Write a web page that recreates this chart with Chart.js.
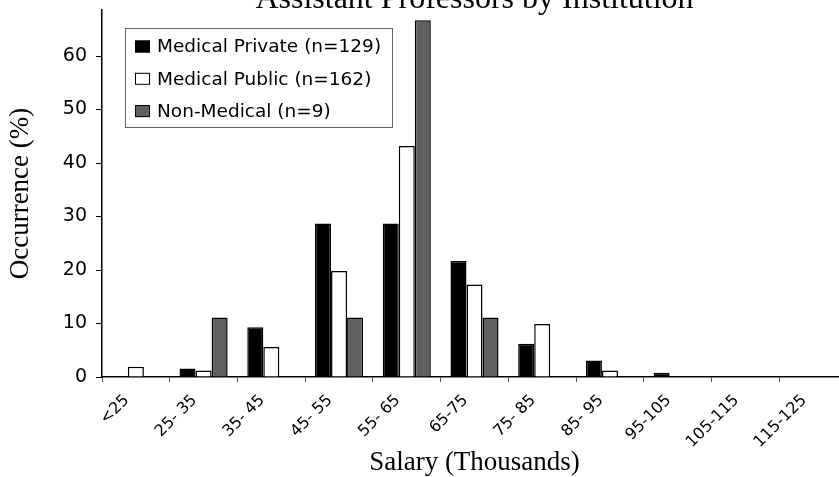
<!DOCTYPE html>
<html>
<head>
<meta charset="utf-8">
<script src="https://cdn.jsdelivr.net/npm/chart.js@4/dist/chart.umd.min.js"></script>
<style>
  html, body { margin: 0; padding: 0; background: #fff; }
  body { width: 839px; height: 477px; overflow: hidden; position: relative; }
  /* canvas sits a bit above and right of the window so the title and the axis end are cut like in the original */
  #chart { position: absolute; left: 0; top: -22px; }
</style>
</head>
<body>
<canvas id="chart" width="860" height="499"></canvas>
<script>
// salary bands (thousands)
const categories = ['<25', '25- 35', '35- 45', '45- 55', '55- 65', '65-75', '75- 85', '85- 95', '95-105', '105-115', '115-125'];
// occurrence in %
const medPrivate = [0, 1.6, 9.3, 28.7, 28.7, 21.7, 6.2, 3.1, 0.8, 0, 0];
const medPublic = [1.9, 1.2, 5.6, 19.8, 43.2, 17.3, 9.9, 1.2, 0, 0, 0];
const nonMedical = [0, 11.1, 0, 11.1, 66.7, 11.1, 0, 0, 0, 0, 0];
const seriesLabels = ['Medical Private (n=129)', 'Medical Public (n=162)', 'Non-Medical (n=9)'];
const yTicks = [0, 10, 20, 30, 40, 50, 60];

const SANS = '"DejaVu Sans", sans-serif';
const SERIF = '"Liberation Serif", "Times New Roman", serif';

// legend in a box inside the plot, top left
const boxLegend = {
  id: 'boxLegend',
  afterDraw(chart) {
    const ctx = chart.ctx;
    const left = chart.chartArea.left + 23, top = chart.chartArea.top + 18;
    ctx.save();
    ctx.fillStyle = '#fff';
    ctx.fillRect(left, top, 267, 99);
    ctx.strokeStyle = '#666';
    ctx.lineWidth = 1;
    ctx.strokeRect(left + 0.5, top + 0.5, 267, 99);
    ctx.font = '18.5px ' + SANS;
    ctx.textBaseline = 'middle';
    chart.data.datasets.forEach((ds, i) => {
      const cy = top + 18.5 + i * 32.3;
      ctx.fillStyle = ds.backgroundColor;
      ctx.fillRect(left + 10, cy - 6, 15, 12);
      ctx.strokeStyle = '#000';
      ctx.strokeRect(left + 10.5, cy - 5.5, 14, 11);
      ctx.fillStyle = '#000';
      ctx.fillText(ds.label, left + 32, cy + 1);
    });
    ctx.restore();
  }
};

new Chart(document.getElementById('chart'), {
  type: 'bar',
  data: {
    labels: categories,
    datasets: [
      { label: seriesLabels[0], data: medPrivate, backgroundColor: '#000000', borderColor: '#000', borderWidth: 1.5 },
      { label: seriesLabels[1], data: medPublic, backgroundColor: '#ffffff', borderColor: '#000', borderWidth: 1.5 },
      { label: seriesLabels[2], data: nonMedical, backgroundColor: '#606060', borderColor: '#000', borderWidth: 1.5 }
    ]
  },
  options: {
    responsive: false,
    animation: false,
    devicePixelRatio: 1,
    layout: { padding: { left: 0, right: 13, top: 0, bottom: 0 } },
    datasets: { bar: { categoryPercentage: 0.71, barPercentage: 1.0 } },
    plugins: {
      legend: { display: false },
      tooltip: { enabled: false },
      title: {
        display: true,
        text: 'Assistant Professors by Institution',
        fullSize: false,
        color: '#000',
        font: { family: SERIF, size: 32, weight: 'normal', lineHeight: 1 },
        // pushed down without moving the plot
        padding: { top: 6, bottom: -6 }
      }
    },
    scales: {
      x: {
        grid: { offset: true, drawOnChartArea: false, tickLength: 5, color: '#555' },
        border: { color: '#000', width: 1.5 },
        ticks: {
          color: '#000', font: { family: SANS, size: 16 },
          autoSkip: false, minRotation: 45, maxRotation: 45,
          padding: 9, labelOffset: -9
        },
        title: {
          display: true, text: 'Salary (Thousands)', color: '#000',
          font: { family: SERIF, size: 27, lineHeight: 1 },
          padding: { top: 0, bottom: 1 }
        },
        afterFit: s => { s.height = 100; }
      },
      y: {
        min: 0,
        max: 68.6,
        grid: { drawOnChartArea: false, tickLength: 6, color: '#000' },
        border: { color: '#000', width: 1.5 },
        ticks: { color: '#000', font: { family: SANS, size: 19 }, padding: 9, stepSize: 10 },
        afterBuildTicks: s => { s.ticks = yTicks.map(v => ({ value: v })); },
        title: {
          display: true, text: 'Occurrence (%)', color: '#000',
          font: { family: SERIF, size: 27, lineHeight: 1 },
          padding: { top: 7, bottom: 0 }
        },
        afterFit: s => { s.width = 102; }
      }
    }
  },
  plugins: [boxLegend]
});
</script>
</body>
</html>
